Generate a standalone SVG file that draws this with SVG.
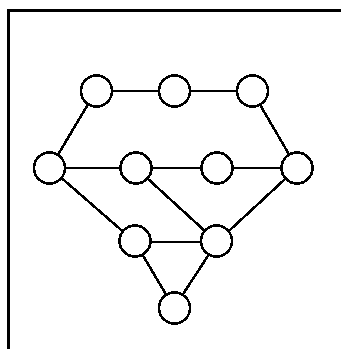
<svg xmlns="http://www.w3.org/2000/svg" width="341" height="349" viewBox="0 0 341 349">
<style>
.frame{fill:none;stroke:#000;stroke-width:3}
.edge{stroke:#000;stroke-width:2.6;fill:none}
.node{fill:#fff;stroke:#000;stroke-width:2.6}
</style>
<rect x="0" y="0" width="341" height="349" fill="#fff"/>
<g id="frame" shape-rendering="crispEdges">
<path class="frame" d="M8.5,349 V10.5 H341"/>
</g>
<g id="connectors" shape-rendering="crispEdges">
<line class="edge" x1="96" y1="91" x2="174" y2="91"/>
<line class="edge" x1="174" y1="91" x2="252" y2="91"/>
<line class="edge" x1="96" y1="91" x2="50" y2="168"/>
<line class="edge" x1="252" y1="91" x2="297" y2="168"/>
<line class="edge" x1="50" y1="168" x2="297" y2="168"/>
<line class="edge" x1="50" y1="168" x2="135" y2="242"/>
<line class="edge" x1="136" y1="168" x2="217" y2="242"/>
<line class="edge" x1="297" y1="168" x2="217" y2="242"/>
<line class="edge" x1="135" y1="242" x2="217" y2="242"/>
<line class="edge" x1="135" y1="242" x2="174" y2="308"/>
<line class="edge" x1="217" y1="242" x2="174" y2="308"/>
</g>
<g shape-rendering="crispEdges">
<g id="n1"><circle class="node" cx="96.5" cy="91" r="15.5"/></g>
<g id="n2"><circle class="node" cx="174.5" cy="91" r="15.5"/></g>
<g id="n3"><circle class="node" cx="252.5" cy="91" r="15.5"/></g>
<g id="n4"><circle class="node" cx="49.5" cy="168" r="15.5"/></g>
<g id="n5"><circle class="node" cx="136" cy="168" r="15.5"/></g>
<g id="n6"><circle class="node" cx="217" cy="168" r="15.5"/></g>
<g id="n7"><circle class="node" cx="297" cy="168" r="15.5"/></g>
<g id="n8"><circle class="node" cx="135" cy="241" r="15.5"/></g>
<g id="n9"><circle class="node" cx="216.5" cy="241" r="15.5"/></g>
<g id="n10"><circle class="node" cx="174.5" cy="308" r="15.5"/></g>
</g>
</svg>
